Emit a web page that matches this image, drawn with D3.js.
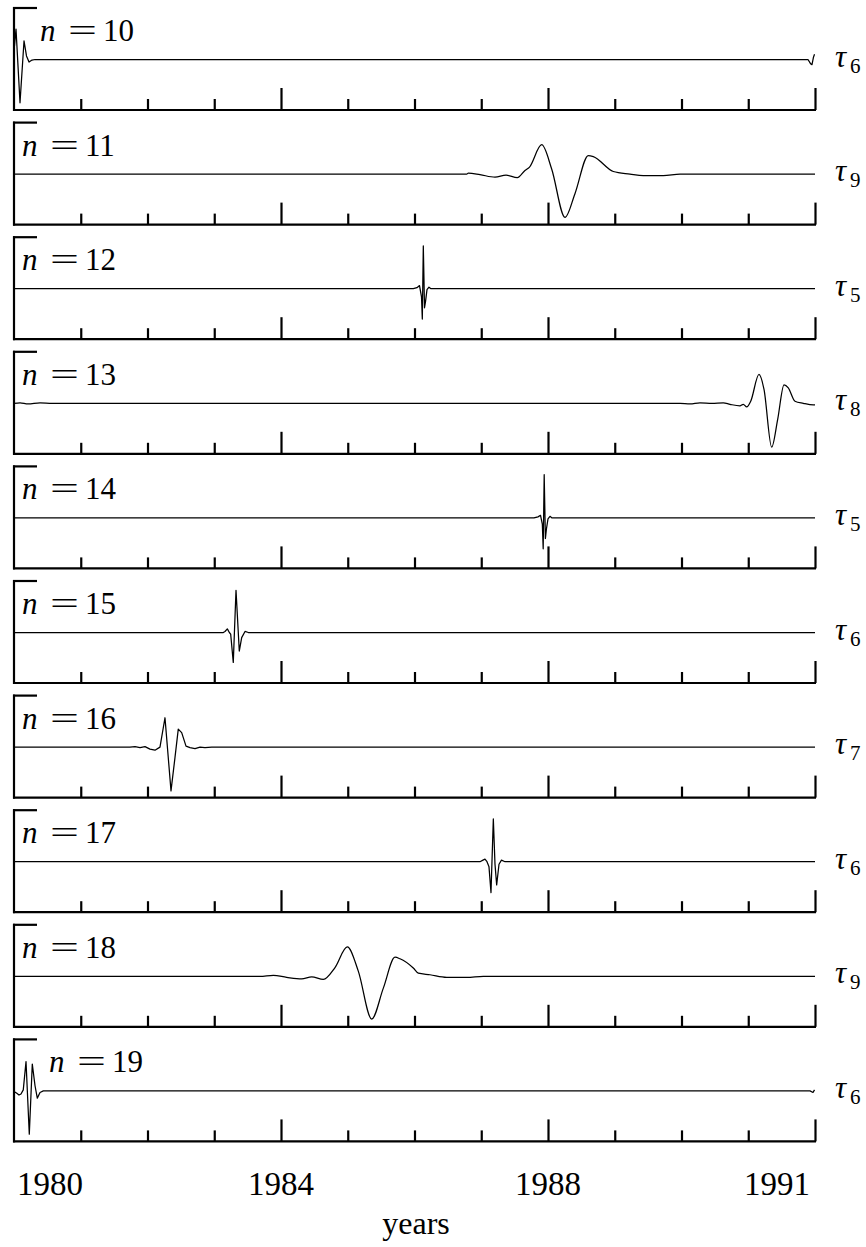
<!DOCTYPE html>
<html>
<head>
<meta charset="utf-8">
<script src="https://cdn.jsdelivr.net/npm/d3@7"></script>
<style>
  html, body { margin: 0; padding: 0; background: #fff; }
  svg { display: block; }
  text { font-family: "Liberation Serif", "DejaVu Serif", serif; fill: #000; }
</style>
</head>
<body>
<svg id="chart"></svg>
<script>
// ---- DATA ----
const panelN = [10, 11, 12, 13, 14, 15, 16, 17, 18, 19];
const tauIndex = ["6", "9", "5", "8", "5", "6", "7", "6", "9", "6"];

const tickLabels = ["1980", "1984", "1988", "1991"];
const tickLabelYears = [1980, 1984, 1988, 1992];
const minorYears = [1981, 1982, 1983, 1985, 1986, 1987, 1989, 1990, 1991];
const majorYears = [1984, 1988, 1992];

// each series: [year, value] (value relative to the zero line)
const s10 = [[1980.0, 0.30], [1980.007, 0.26], [1980.030, 0.59], [1980.090, -0.84], [1980.150, 0.36],
  [1980.187, 0.07], [1980.225, -0.05], [1980.270, -0.01], [1980.315, 0], [1991.895, 0],
  [1991.933, -0.08], [1991.955, -0.10], [1991.978, 0.05], [1991.993, 0.10]];
const s11 = [[1980.0, 0], [1986.782, 0], [1986.806, 0.02], [1986.981, -0.01], [1987.206, -0.06],
  [1987.371, -0.02], [1987.540, -0.07], [1987.655, 0.07], [1987.720, 0.13], [1987.906, 0.57],
  [1988.055, 0.10], [1988.255, -0.84], [1988.404, -0.38], [1988.604, 0.36], [1988.679, 0.34],
  [1988.978, 0.05], [1989.228, 0], [1989.428, -0.03], [1989.727, -0.03], [1989.978, 0], [1992.0, 0]];
const s12 = [[1980.0, 0], [1985.982, 0], [1986.037, 0.02], [1986.075, 0.06], [1986.105, -0.16],
  [1986.117, -0.59], [1986.132, 0.83], [1986.150, -0.37], [1986.165, -0.25], [1986.187, -0.02],
  [1986.217, 0.03], [1986.247, 0], [1992.0, 0]];
const s13 = [[1980.0, 0], [1980.090, 0.01], [1980.210, -0.01], [1980.390, 0.01], [1980.569, 0],
  [1989.978, 0], [1990.127, -0.01], [1990.277, 0.01], [1990.457, 0], [1990.626, 0.01],
  [1990.727, -0.02], [1990.876, -0.05], [1990.926, -0.02], [1990.977, -0.07], [1991.037, 0.04],
  [1991.161, 0.56], [1991.236, 0.27], [1991.351, -0.85], [1991.441, -0.31], [1991.536, 0.36],
  [1991.600, 0.30], [1991.700, 0.04], [1991.825, 0], [1991.975, -0.03], [1992.0, -0.03]];
const s14 = [[1980.0, 0], [1987.790, 0], [1987.850, 0.02], [1987.888, 0.05], [1987.915, -0.12],
  [1987.928, -0.60], [1987.943, 0.84], [1987.961, -0.40], [1987.976, -0.22], [1988.000, -0.02],
  [1988.030, 0.03], [1988.060, 0], [1992.0, 0]];
const s15 = [[1980.0, 0], [1983.136, 0], [1983.161, 0.02], [1983.196, 0.07], [1983.226, 0],
  [1983.246, -0.03], [1983.285, -0.58], [1983.326, 0.82], [1983.375, -0.36], [1983.411, -0.10],
  [1983.461, 0.02], [1983.510, 0], [1992.0, 0]];
const s16 = [[1980.0, 0], [1981.738, 0], [1981.813, 0.01], [1981.888, -0.01], [1981.963, 0.01],
  [1982.037, -0.04], [1982.112, -0.06], [1982.187, 0], [1982.262, 0.57], [1982.352, -0.85],
  [1982.412, -0.20], [1982.461, 0.35], [1982.512, 0.28], [1982.577, 0.02], [1982.637, -0.01],
  [1982.712, -0.03], [1982.787, 0], [1982.861, -0.01], [1982.962, 0], [1992.0, 0]];
const s17 = [[1980.0, 0], [1986.981, 0], [1987.026, 0.03], [1987.056, 0.05], [1987.086, 0],
  [1987.116, -0.10], [1987.146, -0.60], [1987.181, 0.83], [1987.206, -0.05], [1987.231, -0.45],
  [1987.266, -0.05], [1987.303, 0.03], [1987.356, 0], [1992.0, 0]];
const s18 = [[1980.0, 0], [1983.685, 0], [1983.885, 0.02], [1984.085, -0.02], [1984.310, -0.05],
  [1984.460, -0.01], [1984.634, -0.06], [1984.809, 0.17], [1984.993, 0.57], [1985.158, 0.10],
  [1985.359, -0.83], [1985.533, -0.23], [1985.708, 0.37], [1985.783, 0.34], [1985.982, 0.16],
  [1986.057, 0.06], [1986.232, 0.03], [1986.482, -0.02], [1986.782, -0.02], [1987.031, 0], [1992.0, 0]];
const s19 = [[1980.0, -0.01], [1980.007, -0.02], [1980.037, -0.04], [1980.075, -0.08], [1980.105, -0.06],
  [1980.139, 0.02], [1980.180, 0.57], [1980.229, -0.84], [1980.274, 0.52], [1980.315, 0.10],
  [1980.349, -0.14], [1980.390, -0.03], [1980.439, 0], [1991.925, 0], [1991.970, -0.03], [1991.993, 0.02]];

const series = [s10, s11, s12, s13, s14, s15, s16, s17, s18, s19];
const smooth = [false, true, false, true, false, false, false, false, true, false];

// ---- LAYOUT ----
const W = 866, H = 1247;
const left = 14, right = 815;
const top0 = 7, step = 114.6, panelH = 103;
const labelX = [40, 22, 22, 22, 22, 22, 22, 22, 22, 49];

const svg = d3.select("#chart").attr("width", W).attr("height", H);

const x = d3.scaleLinear().domain([1980, 1992]).range([left, right]);

panelN.forEach((n, i) => {
  const top = top0 + i * step;
  const bottom = top + panelH;
  const y = d3.scaleLinear().domain([-1, 1]).range([top + 104, top + 1]);
  const g = svg.append("g").attr("class", "panel");

  // frame: left axis, top stub, bottom axis
  g.append("line").attr("x1", left).attr("x2", left).attr("y1", top).attr("y2", bottom + 1)
    .attr("stroke", "#000").attr("stroke-width", 2.2);
  g.append("line").attr("x1", left - 1).attr("x2", 37).attr("y1", top + 1).attr("y2", top + 1)
    .attr("stroke", "#000").attr("stroke-width", 2.2);
  g.append("line").attr("x1", left - 1).attr("x2", right + 1).attr("y1", bottom).attr("y2", bottom)
    .attr("stroke", "#000").attr("stroke-width", 2.2);

  // ticks pointing up
  const minorAxis = d3.axisBottom(x).tickValues(minorYears).tickSize(-11).tickFormat("");
  const majorAxis = d3.axisBottom(x).tickValues(majorYears).tickSize(-22).tickFormat("");
  [minorAxis, majorAxis].forEach(ax => {
    const a = g.append("g").attr("transform", `translate(0,${bottom})`).call(ax);
    a.select(".domain").remove();
    a.selectAll(".tick line").attr("stroke", "#000").attr("stroke-width", 2.2);
  });

  // signal
  const line = d3.line()
    .x(d => x(d[0]))
    .y(d => y(d[1]))
    .curve(smooth[i] ? d3.curveMonotoneX : d3.curveLinear);
  g.append("path").datum(series[i])
    .attr("fill", "none").attr("stroke", "#000").attr("stroke-width", 1.25)
    .attr("stroke-linejoin", "round")
    .attr("d", line);

  // n = .. label
  const lx = labelX[i], ly = top + 34;
  g.append("text").attr("x", lx).attr("y", ly).attr("font-size", 31).attr("font-style", "italic").text("n");
  g.append("text").attr("x", lx + 28).attr("y", ly).attr("font-size", 31)
    .attr("textLength", 29).attr("lengthAdjust", "spacingAndGlyphs").text("=");
  g.append("text").attr("x", lx + 63).attr("y", ly).attr("font-size", 31).text(String(n));

  // tau label
  const zy = y(0);
  g.append("text").attr("x", 835).attr("y", zy + 7).attr("font-size", 31).attr("font-style", "italic").text("τ");
  g.append("text").attr("x", 850).attr("y", zy + 13).attr("font-size", 21).text(tauIndex[i]);
});

// bottom year labels
const lastBottom = top0 + 9 * step + panelH;
svg.append("g").selectAll("text")
  .data(tickLabels)
  .join("text")
  .attr("x", (d, i) => i === 0 ? x(tickLabelYears[i]) + 3 : i === tickLabels.length - 1 ? x(tickLabelYears[i]) - 5 : x(tickLabelYears[i]))
  .attr("y", lastBottom + 54)
  .attr("text-anchor", (d, i) => i === 0 ? "start" : i === tickLabels.length - 1 ? "end" : "middle")
  .attr("font-size", 33)
  .text(d => d);

svg.append("text")
  .attr("x", 416).attr("y", lastBottom + 93)
  .attr("text-anchor", "middle")
  .attr("font-size", 32)
  .text("years");
</script>
</body>
</html>
